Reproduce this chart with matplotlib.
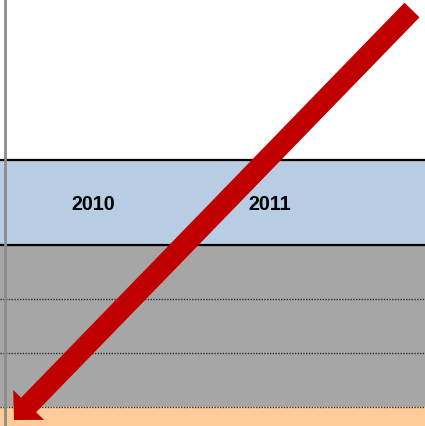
import matplotlib.pyplot as plt
import matplotlib.patches as mpatches
from matplotlib.transforms import Affine2D

# year categories on the time band
years = ["2010", "2011"]
year_pos = [0, 1]

# vertical extent of the bands (pixel rows, top -> bottom)
band_top = 160
band_mid = 245
grid_rows = [299, 353, 407]
band_bottom = 426

fig = plt.figure(figsize=(4.25, 4.26), dpi=100)
ax = fig.add_axes([0, 0, 1, 1])
ax.set_xlim(-0.525, 1.876)
ax.set_ylim(band_bottom, 0)
ax.axis("off")

# bands
ax.axhspan(band_top, band_mid, color="#B8CCE4", zorder=1)
ax.axhspan(band_mid, grid_rows[-1], color="#A6A6A6", zorder=1)
ax.axhspan(grid_rows[-1], band_bottom, color="#FFCC99", zorder=1)

ax.axhline(band_top, color="black", lw=1.6, zorder=2)
ax.axhline(band_mid, color="black", lw=1.6, zorder=2)
for r in grid_rows:
    ax.axhline(r, color="#303030", lw=1, ls=(0, (1, 1)), zorder=2)

# left boundary of the first year
ax.axvline(year_pos[0] - 0.497, color="#8c8c8c", lw=2, zorder=2)

for p, y in zip(year_pos, years):
    ax.text(p, (band_top + band_mid) / 2 + 1.5, y, ha="center", va="center",
            fontsize=14.2, fontweight="bold", family="Liberation Sans", zorder=3)

# big red arrow, in pixel space (origin top-left)
arrow = mpatches.FancyArrow(412, 10, -398, 410, width=21, head_width=43,
                            head_length=21, length_includes_head=True,
                            color="#C00000", lw=0, zorder=4)
arrow.set_transform(Affine2D().scale(1, -1).translate(0, 426))
ax.add_artist(arrow)

fig.savefig("out.png", dpi=100)
